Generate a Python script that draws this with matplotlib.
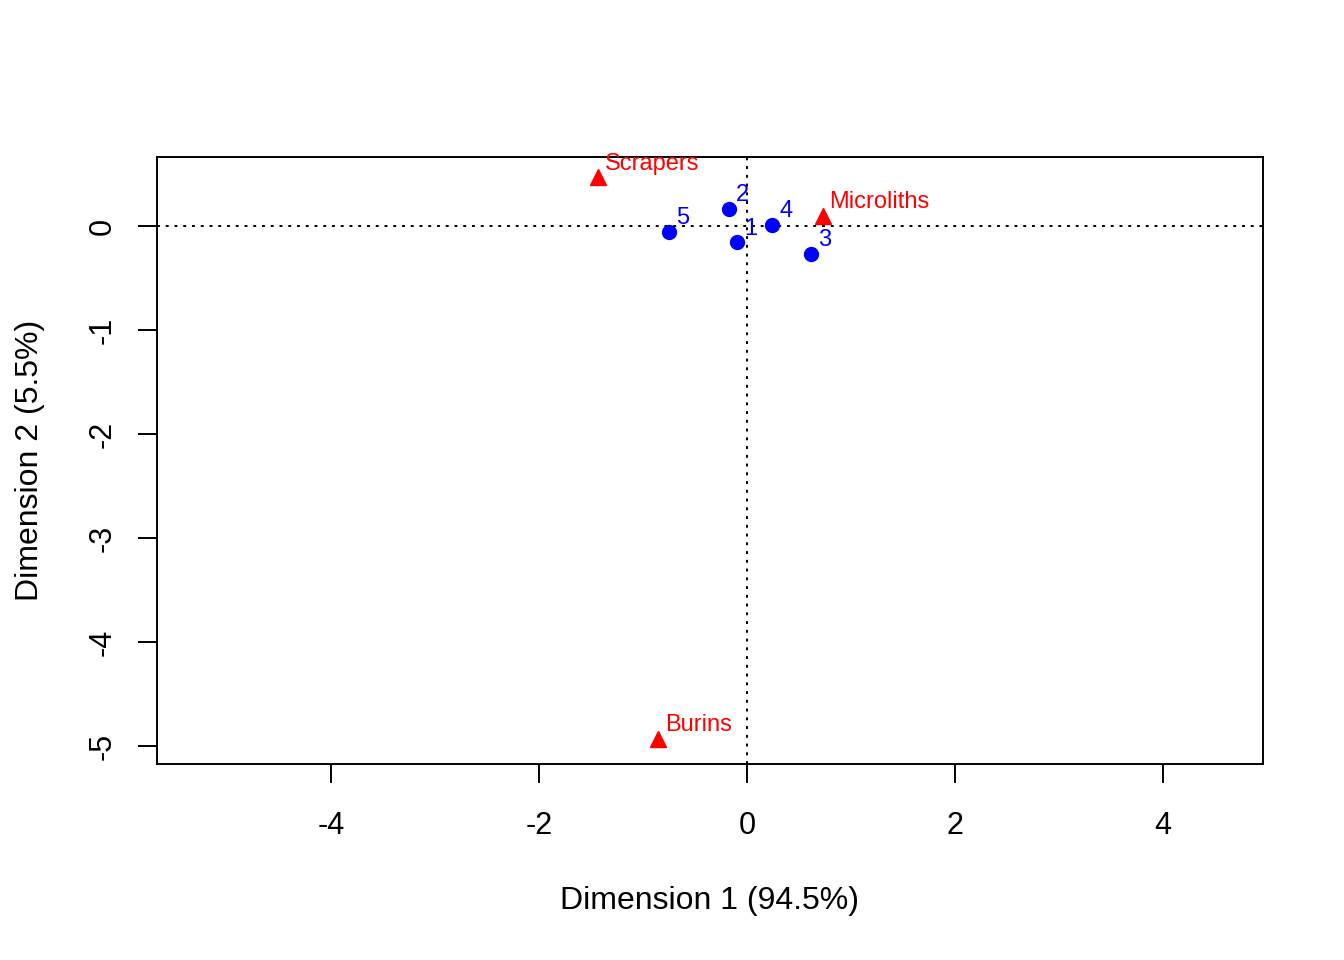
import matplotlib
matplotlib.use("Agg")
import matplotlib.pyplot as plt

plt.rcParams['font.family'] = ['Liberation Sans', 'DejaVu Sans']
plt.rcParams['axes.unicode_minus'] = False

# row points (sites) and column points (tool types)
row_labels = ["1", "2", "3", "4", "5"]
row_x = [-0.093, -0.170, 0.615, 0.243, -0.747]
row_y = [-0.157, 0.163, -0.267, 0.007, -0.055]

col_labels = ["Burins", "Microliths", "Scrapers"]
col_x = [-0.856, 0.728, -1.430]
col_y = [-4.933, 0.096, 0.468]

xticks = [-4, -2, 0, 2, 4]
yticks = [0, -1, -2, -3, -4, -5]

fig = plt.figure(figsize=(13.44, 9.6), dpi=100)
ax = fig.add_axes([157/1344, 1 - 764/960, (1263-157)/1344, (764-157)/960])

ax.axhline(0, color="black", lw=1.4, ls=(0, (1.5, 3)), zorder=1)
ax.axvline(0, color="black", lw=1.4, ls=(0, (1.5, 3)), zorder=1)

ax.plot(row_x, row_y, "o", color="blue", ms=10, zorder=3)
ax.plot(col_x, col_y, "^", color="red", ms=11.5, zorder=3)

for lab, x, y in zip(row_labels, row_x, row_y):
    ax.annotate(lab, (x, y), xytext=(5, 2), textcoords="offset points",
                color="blue", fontsize=17, ha="left", va="bottom")
for lab, x, y in zip(col_labels, col_x, col_y):
    ax.annotate(lab, (x, y), xytext=(5, 2), textcoords="offset points",
                color="red", fontsize=17, ha="left", va="bottom")

ax.set_xlim(-5.673, 4.962)
ax.set_ylim(-5.173, 0.663)
ax.set_xticks(xticks)
ax.set_yticks(yticks)
ax.set_yticklabels([str(t) for t in yticks], rotation=90, va="center")
ax.tick_params(direction="out", length=14, width=1.4, labelsize=22, pad=20)
ax.tick_params(axis="y", pad=14)
for s in ax.spines.values():
    s.set_linewidth(1.4)

ax.set_xlabel("Dimension 1 (94.5%)", fontsize=23, labelpad=32)
ax.set_ylabel("Dimension 2 (5.5%)", fontsize=23, labelpad=31)

fig.savefig("out.png", dpi=100)
